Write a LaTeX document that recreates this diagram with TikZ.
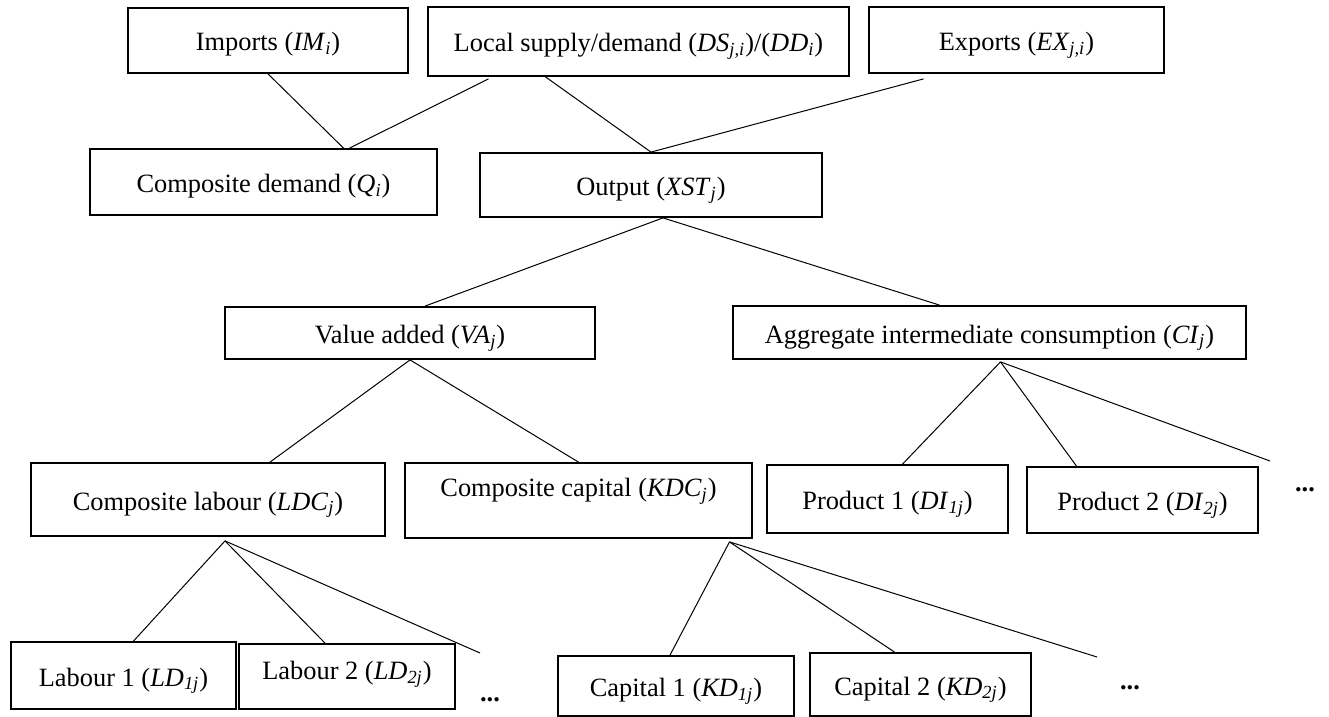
\documentclass[tikz,border=0pt]{standalone}
\usepackage{fontspec}
\setmainfont{Liberation Serif}
\usetikzlibrary{calc}
\tikzset{bx/.style={draw,line width=0.9pt,inner sep=0pt,text height=11pt,text depth=0.5pt,font=\fontsize{13.2}{15}\selectfont},
         ln/.style={line width=0.5pt}, dd/.style={font=\bfseries\fontsize{13.2}{15}\selectfont}}
\newcommand{\vsub}[2]{\textit{#1}\textsubscript{\textit{#2}}}

\begin{document}
\begin{tikzpicture}[x=0.5pt,y=-0.5pt]
\useasboundingbox (0,0) rectangle (1329,717);
% top row
\node[bx,minimum width=140pt,minimum height=32.5pt] at (268,40.5)(im){Imports (\vsub{IM}{i})};
\node[bx,minimum width=210.5pt,minimum height=34.5pt] at (638.5,41.5)(ds){Local supply/demand (\vsub{DS}{j,i})/(\vsub{DD}{i})};
\node[bx,minimum width=147.5pt,minimum height=33pt] at (1016.5,40)(ex){Exports (\vsub{EX}{j,i})};
\node[bx,minimum width=173.5pt,minimum height=33pt] at (263.5,182)(q){Composite demand (\vsub{Q}{i})};
\node[bx,minimum width=171pt,minimum height=32pt] at (651,185)(xst){Output (\vsub{XST}{j})};
% second level
\node[bx,minimum width=185pt,minimum height=26pt] at (410,333)(va){Value added (\vsub{VA}{j})};
\node[bx,minimum width=256.5pt,minimum height=26.5pt] at (989.5,332.5)(ci){Aggregate intermediate consumption (\vsub{CI}{j})};
\node[bx,minimum width=177pt,minimum height=36.5pt] at (208,499.5)(ldc){Composite labour (\vsub{LDC}{j})};
\node[bx,minimum width=173.5pt,minimum height=37.5pt,text depth=14.7pt] at (578.5,500.5)(kdc){Composite capital (\vsub{KDC}{j})};
\node[bx,minimum width=120.5pt,minimum height=34pt] at (887.5,499)(di1){Product 1 (\vsub{DI}{1j})};
\node[bx,minimum width=115.5pt,minimum height=33pt] at (1142.5,500)(di2){Product 2 (\vsub{DI}{2j})};
% bottom row
\node[bx,minimum width=112.5pt,minimum height=33.5pt] at (123.5,675.5)(ld1){Labour 1 (\vsub{LD}{1j})};
\node[bx,minimum width=108pt,minimum height=32.5pt,text depth=8.2pt] at (347,676.5)(ld2){Labour 2 (\vsub{LD}{2j})};
\node[bx,minimum width=118pt,minimum height=30pt] at (676,686)(kd1){Capital 1 (\vsub{KD}{1j})};
\node[bx,minimum width=110.5pt,minimum height=31.5pt] at (920.5,684.5)(kd2){Capital 2 (\vsub{KD}{2j})};
\node[dd] at (490,700)(ldots){...};
\node[dd] at (1130,688)(kdots){...};
\node[dd] at (1305,490)(didots){...};
% links
\draw[ln] (im.south) -- ($(q.north)+(80,0)$);
\draw[ln] ($(ds.south)+(-150,2)$) -- ($(q.north)+(86,0)$);
\draw[ln] ($(ds.south)+(-93,0)$) -- (xst.north);
\draw[ln] ($(ex.south)+(-93,5)$) -- (xst.north);
\coordinate (xb) at ($(xst.south)+(12,0)$);
\draw[ln] (xb) -- ($(va.north)+(15,0)$);
\draw[ln] (xb) -- ($(ci.north)+(-50,0)$);
\draw[ln] (va.south) -- ($(ldc.north)+(62,0)$);
\draw[ln] (va.south) -- (kdc.north);
\coordinate (cb) at ($(ci.south)+(11,2)$);
\coordinate (ce) at (1270,461);
\draw[ln] (cb) -- ($(di1.north)+(15,0)$);
\draw[ln] (cb) -- ($(di2.north)+(-66,0)$);
\draw[ln] (cb) -- (ce);
\coordinate (lb) at ($(ldc.south)+(17,4)$);
\coordinate (le) at (480,653);
\draw[ln] (lb) -- ($(ld1.north)+(10,0)$);
\draw[ln] (lb) -- ($(ld2.north)+(-22,0)$);
\draw[ln] (lb) -- (le);
\coordinate (kb) at ($(kdc.south)+(151,3)$);
\coordinate (ke) at (1097,657);
\draw[ln] (kb) -- ($(kd1.north)+(-6,0)$);
\draw[ln] (kb) -- ($(kd2.north)+(-26,0)$);
\draw[ln] (kb) -- (ke);
\end{tikzpicture}
\end{document}
